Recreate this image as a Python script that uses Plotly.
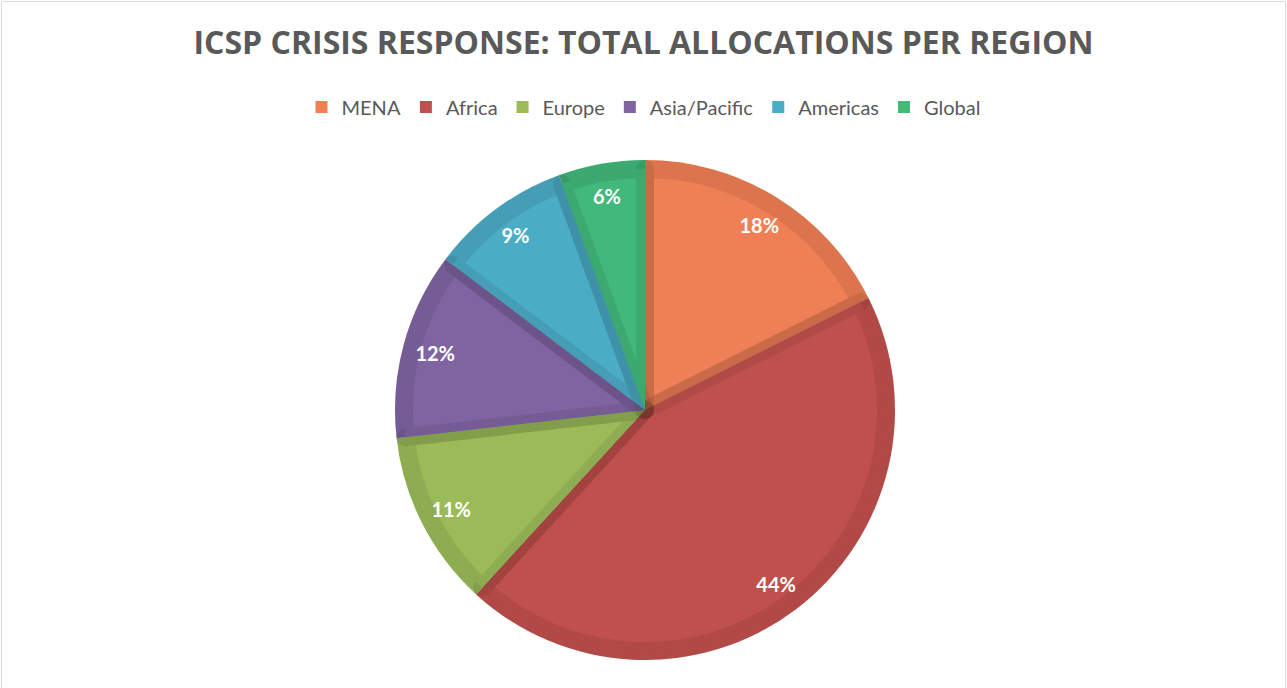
import plotly.graph_objects as go

regions = ["MENA", "Africa", "Europe", "Asia/Pacific", "Americas", "Global"]
shares = [17.6, 44.2, 11.4, 12.1, 9.1, 5.6]
fill_colors = ["#EF7F55", "#C0504D", "#9BBB59", "#8064A2", "#4BACC6", "#42B87A"]

W, H = 1287, 688
cx, cy, R = 645, 410, 250
inset = 9


def dom(r):
    return dict(x=[(cx - r) / W, (cx + r) / W], y=[1 - (cy + r) / H, 1 - (cy - r) / H])


fig = go.Figure()
# base pie (legend source)
fig.add_trace(go.Pie(
    labels=regions, values=shares, sort=False, direction="clockwise", rotation=0,
    marker=dict(colors=fill_colors, line=dict(width=0)),
    textinfo="none", hoverinfo="label+percent", domain=dom(R), showlegend=True,
))
# border layer: darker inset edges
fig.add_trace(go.Pie(
    labels=regions, values=shares, sort=False, direction="clockwise", rotation=0,
    marker=dict(colors=fill_colors, line=dict(width=2 * inset, color="rgba(0,0,0,0.08)")),
    textinfo="none", hoverinfo="skip", domain=dom(R - inset), showlegend=False,
))
# label ring
fig.add_trace(go.Pie(
    labels=regions, values=shares, sort=False, direction="clockwise", rotation=0,
    hole=0.74,
    marker=dict(colors=["rgba(0,0,0,0)"] * len(regions), line=dict(width=0)),
    texttemplate="<b>%{percent:.0%}</b>", textposition="inside",
    insidetextorientation="horizontal",
    textfont=dict(family="Lato, Open Sans, sans-serif", size=20, color="white"),
    hoverinfo="skip", domain=dom(R), showlegend=False,
))

fig.update_layout(
    width=W, height=H,
    margin=dict(l=0, r=0, t=0, b=0),
    paper_bgcolor="white", plot_bgcolor="white",
    title=dict(
        text="<b>ICSP CRISIS RESPONSE: TOTAL ALLOCATIONS PER REGION</b>",
        x=0.5, xanchor="center", y=1 - 43 / H, yanchor="middle",
        font=dict(family="Open Sans, sans-serif", size=32, color="#595959"),
    ),
    legend=dict(
        orientation="h", x=0.5, xanchor="center", y=1 - 107 / H, yanchor="middle",
        font=dict(family="Lato, sans-serif", size=20, color="#595959"),
        traceorder="normal", itemwidth=30,
    ),
    shapes=[dict(type="rect", xref="paper", yref="paper", x0=1.5 / W, x1=1 - 1.5 / W,
                 y0=-0.05, y1=1 - 1.5 / H, line=dict(color="#D9D9D9", width=1),
                 fillcolor="rgba(0,0,0,0)", layer="below")],
)

fig.write_html("out.html")
